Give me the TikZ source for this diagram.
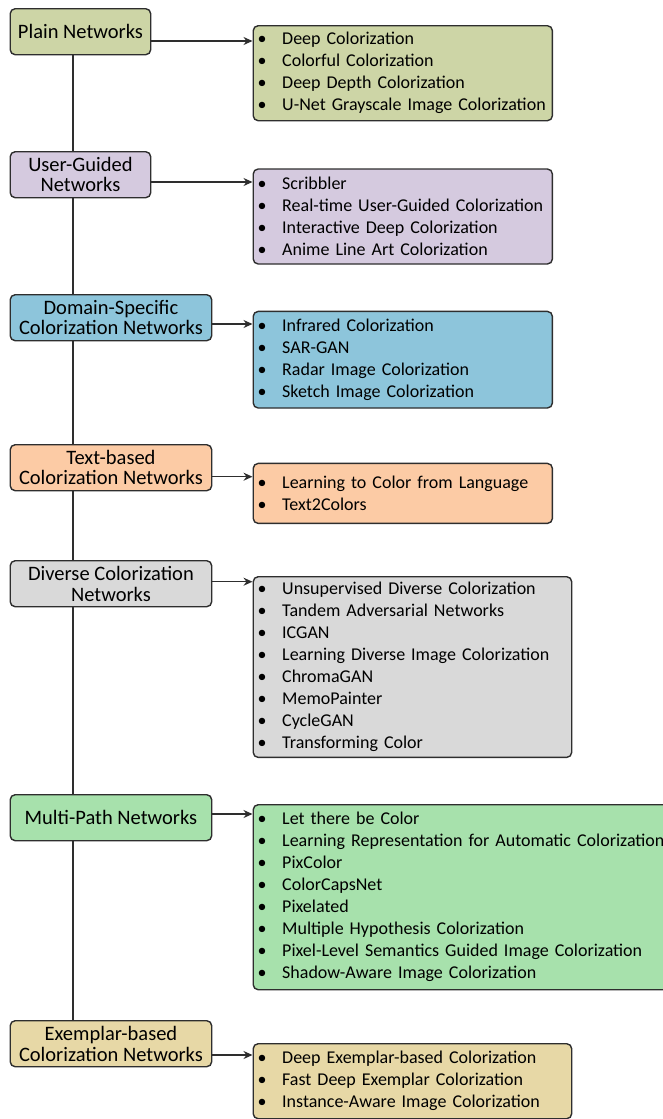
\documentclass[tikz,border=0pt]{standalone}
\usepackage{fontspec}
\setmainfont{Carlito}
\usetikzlibrary{arrows.meta}

\definecolor{plaincol}{HTML}{CDD5A6}
\definecolor{guidedcol}{HTML}{D5CADF}
\definecolor{domaincol}{HTML}{8DC5DB}
\definecolor{textcol}{HTML}{FCCBA5}
\definecolor{diversecol}{HTML}{D9D9D9}
\definecolor{multicol}{HTML}{A7E1AC}
\definecolor{exemplarcol}{HTML}{E7D8A6}
\definecolor{edgecol}{HTML}{2E2E2E}

\newcommand{\itm}[1]{\makebox[24.5pt][l]{\textbullet}#1}

\begin{document}
\begin{tikzpicture}[x=1pt,y=-1pt,
    catbox/.style={draw=edgecol,line width=1.4pt,rounded corners=5pt,anchor=north west,
      minimum height=46pt,inner sep=1pt,align=center,font=\fontsize{20.5}{20.5}\selectfont},
    listbox/.style={draw=edgecol,line width=1.4pt,rounded corners=5pt,anchor=north west,
      inner xsep=4.5pt,inner ysep=1pt,align=left,font=\fontsize{18}{22}\selectfont},
    link/.style={draw=edgecol,line width=1.4pt,-{Stealth[length=9pt,width=8pt]}}]
  \useasboundingbox (0,0) rectangle (663,1119);
  % categories
  \node [catbox,fill=plaincol,minimum width=140.5pt]    (plain)    at (9.5,8)    {Plain Networks};
  \node [catbox,fill=guidedcol,minimum width=140.5pt]   (guided)   at (9.5,151)  {User-Guided\\Networks};
  \node [catbox,fill=domaincol,minimum width=201.5pt]   (domain)   at (9.5,294)  {Domain-Specific\\Colorization Networks};
  \node [catbox,fill=textcol,minimum width=201.5pt]     (textb)    at (9.5,444)  {Text-based\\Colorization Networks};
  \node [catbox,fill=diversecol,minimum width=201.5pt]  (diverse)  at (9.5,560)  {Diverse Colorization\\Networks};
  \node [catbox,fill=multicol,minimum width=201.5pt]    (multi)    at (9.5,794)  {Multi-Path Networks};
  \node [catbox,fill=exemplarcol,minimum width=201.5pt] (exemplar) at (9.5,1020) {Exemplar-based\\Colorization Networks};
  % method lists
  \node [listbox,fill=plaincol,text width=290.2pt,minimum height=95pt] (plainlist) at (252.5,25)
    {\itm{Deep Colorization}\\\itm{Colorful Colorization}\\\itm{Deep Depth Colorization}\\\itm{U-Net Grayscale Image Colorization}};
  \node [listbox,fill=guidedcol,text width=290.2pt,minimum height=95pt] (guidedlist) at (252.5,168.3)
    {\itm{Scribbler}\\\itm{Real-time User-Guided Colorization}\\\itm{Interactive Deep Colorization}\\\itm{Anime Line Art Colorization}};
  \node [listbox,fill=domaincol,text width=290.2pt,minimum height=96.6pt] (domainlist) at (252.5,310.7)
    {\itm{Infrared Colorization}\\\itm{SAR-GAN}\\\itm{Radar Image Colorization}\\\itm{Sketch Image Colorization}};
  \node [listbox,fill=textcol,text width=290.2pt,minimum height=60pt] (textblist) at (252.5,462.7)
    {\itm{Learning to Color from Language}\\\itm{Text2Colors}};
  \node [listbox,fill=diversecol,text width=309.5pt,minimum height=180.7pt] (diverselist) at (252.5,576)
    {\itm{Unsupervised Diverse Colorization}\\\itm{Tandem Adversarial Networks}\\\itm{ICGAN}\\
     \itm{Learning Diverse Image Colorization}\\\itm{ChromaGAN}\\\itm{MemoPainter}\\\itm{CycleGAN}\\\itm{Transforming Color}};
  \node [listbox,fill=multicol,text width=411pt,minimum height=185pt] (multilist) at (252.5,804)
    {\itm{Let there be Color}\\\itm{Learning Representation for Automatic Colorization}\\\itm{PixColor}\\
     \itm{ColorCapsNet}\\\itm{Pixelated}\\\itm{Multiple Hypothesis Colorization}\\
     \itm{Pixel-Level Semantics Guided Image Colorization}\\\itm{Shadow-Aware Image Colorization}};
  \node [listbox,fill=exemplarcol,text width=309.5pt,minimum height=75pt] (exemplarlist) at (252.5,1043)
    {\itm{Deep Exemplar-based Colorization}\\\itm{Fast Deep Exemplar Colorization}\\\itm{Instance-Aware Image Colorization}};
  % spine
  \foreach \a/\b in {plain/guided,guided/domain,domain/textb,textb/diverse,diverse/multi,multi/exemplar}
    {\draw [draw=edgecol,line width=1.4pt] ([xshift=63.5pt]\a.south west) -- ([xshift=63.5pt]\b.north west);}
  % arrows
  \foreach \a/\dy in {plain/16,guided/13.7,domain/13.3,textb/14,diverse/5.7,multi/10,exemplar/12}
    {\draw [link] ([yshift=-\dy pt]\a list.north west -| \a.east) -- ([yshift=-\dy pt]\a list.north west);}
\end{tikzpicture}
\end{document}
